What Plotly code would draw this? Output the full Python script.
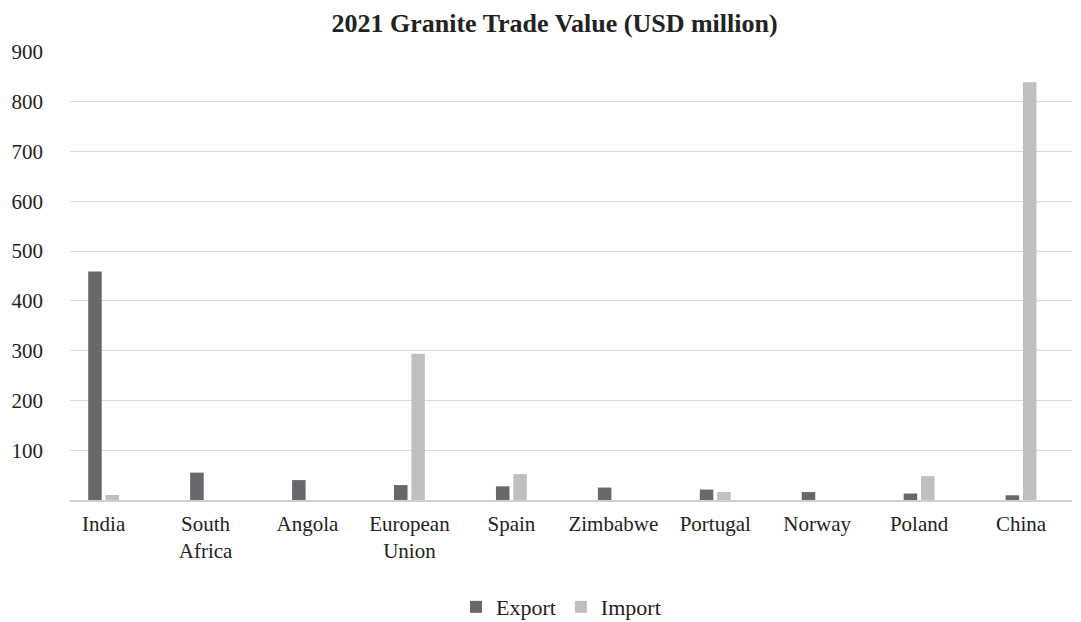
import plotly.graph_objects as go

categories = ["India", "South<br>Africa", "Angola", "European<br>Union", "Spain",
              "Zimbabwe", "Portugal", "Norway", "Poland", "China"]
export_vals = [459, 55, 40, 30, 27.5, 25, 21, 16, 13, 9.5]
import_vals = [10, 0, 0, 294, 52, 0, 16, 0, 48, 839]
y_ticks = [100, 200, 300, 400, 500, 600, 700, 800, 900]

FONT = "Liberation Serif"

fig = go.Figure()
fig.add_trace(go.Bar(name="Export", x=categories, y=export_vals,
                     marker=dict(color="#68686c", line=dict(width=0))))
fig.add_trace(go.Bar(name="Import", x=categories, y=import_vals,
                     marker=dict(color="#bfbfc2", line=dict(width=0))))

fig.update_layout(
    width=1081, height=622,
    margin=dict(l=70, r=9, t=52, b=122, autoexpand=False),
    paper_bgcolor="white", plot_bgcolor="white",
    barmode="group", bargap=0.66, bargroupgap=0.22,
    font=dict(family=FONT, size=21, color="#222222"),
    title=dict(text="<b>2021 Granite Trade Value (USD million)</b>",
               x=0.513, xanchor="center", xref="container",
               y=0.963, yanchor="middle", yref="container",
               font=dict(family=FONT, size=26, color="#222222")),
    legend=dict(orientation="h", x=0.49, xanchor="center", xref="paper",
                y=-0.239, yanchor="middle", font=dict(family=FONT, size=22),
                itemwidth=30, traceorder="normal"),
    showlegend=True,
)
fig.update_xaxes(range=[-0.33, 9.5], showgrid=False, showline=True,
                 linecolor="#cfcfcf", linewidth=1.5, ticks="",
                 ticklabelstandoff=4,
                 tickfont=dict(family=FONT, size=21, color="#222222"))
fig.update_yaxes(range=[0, 900], tickvals=y_ticks, showgrid=True,
                 gridcolor="#d9d9d9", gridwidth=1.3, zeroline=False,
                 showline=False, ticks="", ticklabelstandoff=26,
                 tickfont=dict(family=FONT, size=21, color="#222222"))

fig.write_html("out.html")
